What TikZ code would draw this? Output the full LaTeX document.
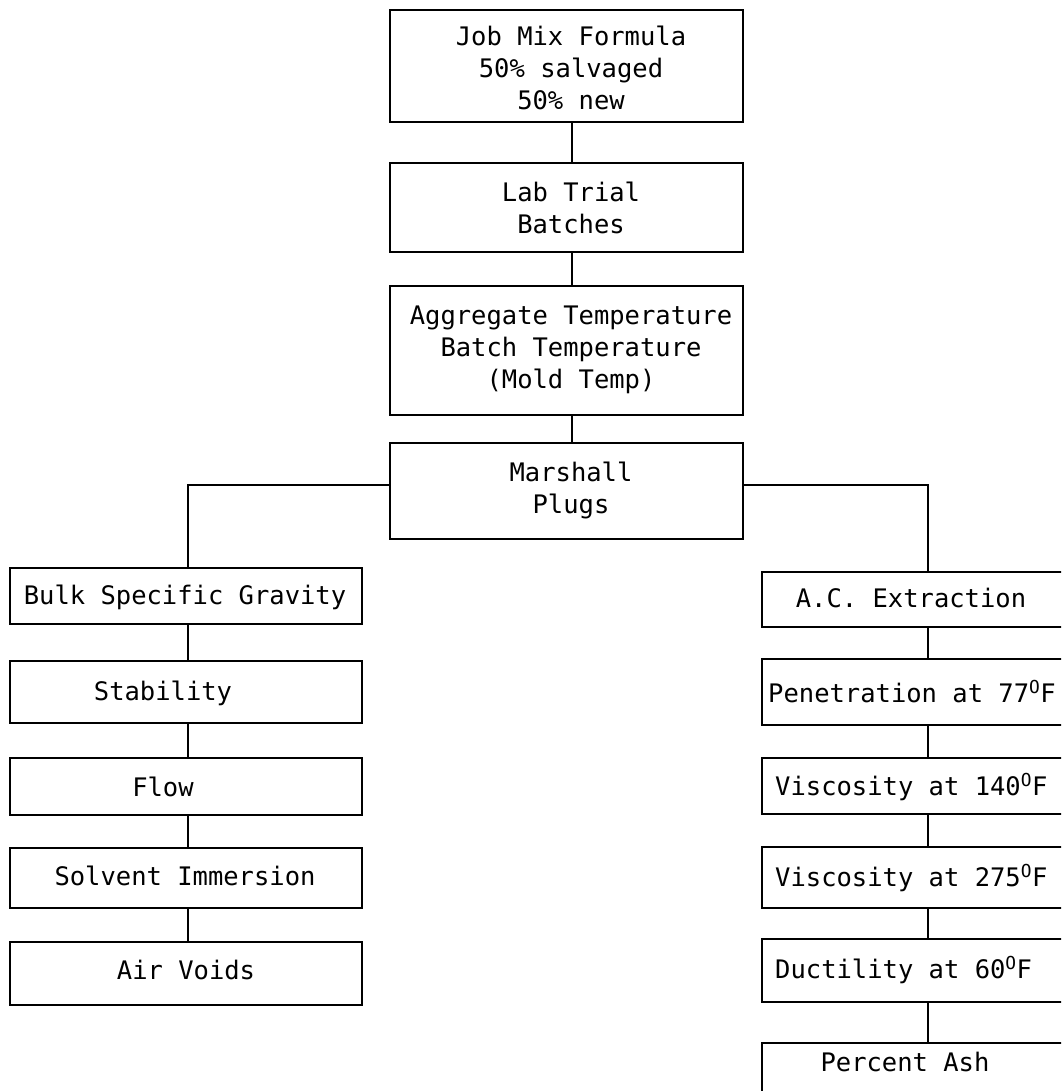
\documentclass[tikz,border=0pt]{standalone}
\usepackage{fontspec}
\setmonofont{DejaVu Sans Mono}
\begin{document}
\begin{tikzpicture}[x=1pt,y=-1pt,
  box/.style={draw, line width=1.5pt, rectangle, inner sep=0pt},
  lbl/.style={font=\fontsize{25.5}{32}\selectfont\ttfamily, inner sep=0pt, align=center},
  conn/.style={line width=1.5pt}]
\path[use as bounding box, clip] (0,0) rectangle (1061,1091);
% main column
\node[box, minimum width=353, minimum height=112] (jmf) at (566.5,66) {};
\node[box, minimum width=353, minimum height=89]  (lab) at (566.5,207.5) {};
\node[box, minimum width=353, minimum height=129] (agg) at (566.5,350.5) {};
\node[box, minimum width=353, minimum height=96]  (mar) at (566.5,491) {};
\node[lbl] (jmft) at (571,68) {Job Mix Formula\\50\% salvaged\\50\% new};
\node[lbl] (labt) at (571,208) {Lab Trial\\Batches};
\node[lbl] (aggt) at (571,350) {Aggregate Temperature\\Batch Temperature\\(Mold Temp)};
\node[lbl] (mart) at (571,490) {Marshall\\Plugs};
% left column
\node[box, minimum width=352, minimum height=56] (bulk) at (186,596) {};
\node[box, minimum width=352, minimum height=62] (stab) at (186,692) {};
\node[box, minimum width=352, minimum height=57] (flow) at (186,786.5) {};
\node[box, minimum width=352, minimum height=60] (solv) at (186,878) {};
\node[box, minimum width=352, minimum height=63] (air)  at (186,973.5) {};
\node[lbl] (bulkt) at (185,597) {Bulk Specific Gravity};
\node[lbl] (stabt) at (163,693) {Stability};
\node[lbl] (flowt) at (163,787) {Flow};
\node[lbl] (solvt) at (185,876) {Solvent Immersion};
\node[lbl] (airt)  at (186,970) {Air Voids};
% right column
\node[box, minimum width=332, minimum height=55] (ace)  at (928,599.5) {};
\node[box, minimum width=332, minimum height=66] (pen)  at (928,692) {};
\node[box, minimum width=332, minimum height=56] (v140) at (928,786) {};
\node[box, minimum width=332, minimum height=61] (v275) at (928,877.5) {};
\node[box, minimum width=332, minimum height=63] (duct) at (928,970.5) {};
\node[box, minimum width=332, minimum height=77] (ash)  at (928,1081.5) {};
\node[lbl] (acet) at (911,598) {A.C. Extraction};
\node[lbl, anchor=west] (pent) at (768,692) {Penetration at 77\textsuperscript{O}F};
\node[lbl, anchor=west] (v140t) at (775,787) {Viscosity at 140\textsuperscript{O}F};
\node[lbl, anchor=west] (v275t) at (775,878) {Viscosity at 275\textsuperscript{O}F};
\node[lbl, anchor=west] (ductt) at (775,970) {Ductility at 60\textsuperscript{O}F};
\node[lbl] (asht) at (905,1062) {Percent Ash};
% connectors
\draw[conn] ([xshift=5.5pt]jmf.south) -- ([xshift=5.5pt]lab.north);
\draw[conn] ([xshift=5.5pt]lab.south) -- ([xshift=5.5pt]agg.north);
\draw[conn] ([xshift=5.5pt]agg.south) -- ([xshift=5.5pt]mar.north);
\draw[conn] ([yshift=6pt]mar.west) -| ([xshift=2pt]bulk.north);
\draw[conn] ([yshift=6pt]mar.east) -| (ace.north);
\draw[conn] ([xshift=2pt]bulk.south) -- ([xshift=2pt]stab.north);
\draw[conn] ([xshift=2pt]stab.south) -- ([xshift=2pt]flow.north);
\draw[conn] ([xshift=2pt]flow.south) -- ([xshift=2pt]solv.north);
\draw[conn] ([xshift=2pt]solv.south) -- ([xshift=2pt]air.north);
\draw[conn] (ace.south) -- (pen.north);
\draw[conn] (pen.south) -- (v140.north);
\draw[conn] (v140.south) -- (v275.north);
\draw[conn] (v275.south) -- (duct.north);
\draw[conn] (duct.south) -- (ash.north);
\end{tikzpicture}
\end{document}
